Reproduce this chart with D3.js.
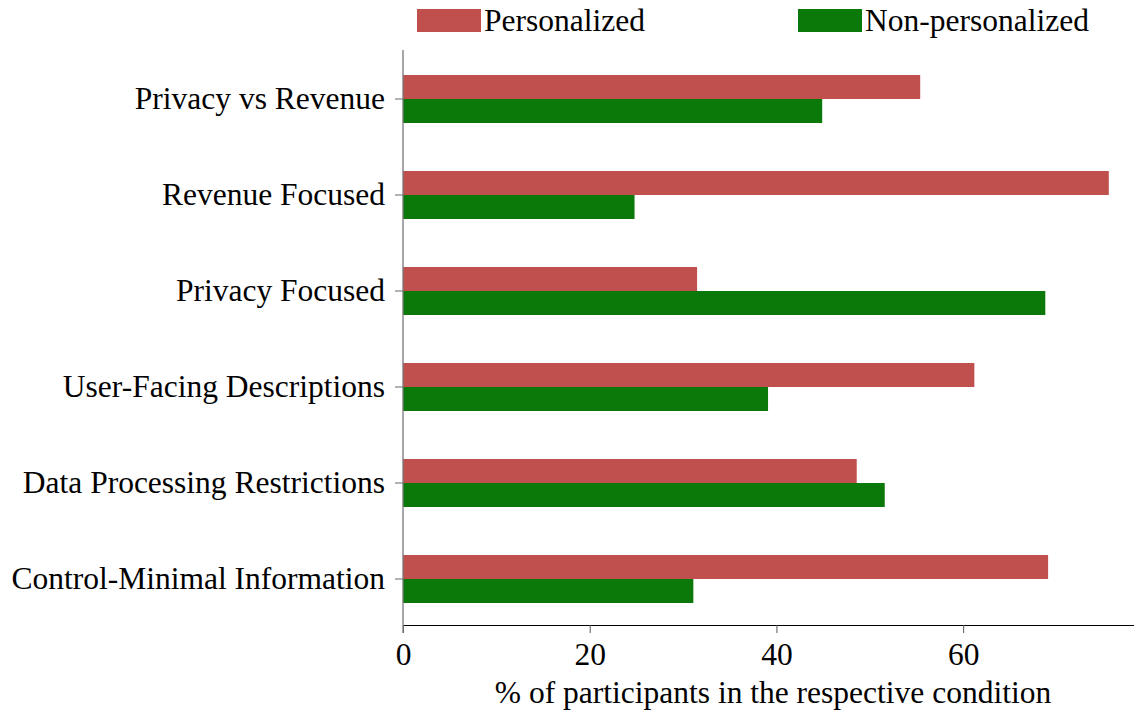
<!DOCTYPE html>
<html>
<head>
<meta charset="utf-8">
<script src="https://cdn.jsdelivr.net/npm/d3@7"></script>
<style>
  html, body { margin: 0; padding: 0; background: #fff; }
  svg { display: block; font-family: "Liberation Serif", "Times New Roman", serif; }
</style>
</head>
<body>
<svg id="chart" width="1134" height="713"></svg>
<script>
const categories = ["Privacy vs Revenue", "Revenue Focused", "Privacy Focused",
  "User-Facing Descriptions", "Data Processing Restrictions", "Control-Minimal Information"];
const seriesNames = ["Personalized", "Non-personalized"];
const personalized = [55.4, 75.6, 31.5, 61.2, 48.6, 69.1];
const nonPersonalized = [44.9, 24.8, 68.8, 39.1, 51.6, 31.1];
const xTicks = [0, 20, 40, 60];
const xLabel = "% of participants in the respective condition";

(function () {
const colors = ["#C0504D", "#0A790A"];
const fs = 31.5;
const svg = d3.select("#chart");
const mLeft = 403, mRight = 1134, mTop = 51, mBottom = 627, axisY = 625;

const x = d3.scaleLinear().domain([0, 78.3]).range([mLeft, mRight]);
const y = d3.scaleBand().domain(categories).range([mTop, mBottom]);
const barH = 24;

const series = [personalized, nonPersonalized];

// bars
series.forEach((vals, si) => {
  svg.append("g").selectAll("rect")
    .data(categories.map((c, i) => ({c, v: vals[i]})))
    .join("rect")
    .attr("x", x(0))
    .attr("y", d => y(d.c) + y.bandwidth() / 2 - barH + si * barH)
    .attr("width", d => x(d.v) - x(0))
    .attr("height", barH)
    .attr("fill", colors[si]);
});

// x axis
const xAxis = svg.append("g").attr("transform", `translate(0,${axisY})`)
  .call(d3.axisBottom(x).tickValues(xTicks).tickFormat(d3.format("d")).tickSize(8).tickSizeOuter(0));
xAxis.select(".domain").attr("stroke", "#000").attr("stroke-width", 1.2);
xAxis.selectAll(".tick line").attr("stroke", "#555");
xAxis.selectAll(".tick text").attr("font-size", fs).attr("font-family", "Liberation Serif")
  .attr("fill", "#000").attr("dy", null).attr("y", 40);

svg.append("text").attr("x", 773).attr("y", 703)
  .attr("text-anchor", "middle").attr("font-size", fs).attr("fill", "#000").text(xLabel);

// y axis
const yAxis = svg.append("g").attr("transform", `translate(${mLeft},0)`)
  .call(d3.axisLeft(y).tickSize(8).tickSizeOuter(0).tickPadding(10));
yAxis.select(".domain").remove();
yAxis.selectAll(".tick line").attr("stroke", "#666");
yAxis.selectAll(".tick text").attr("font-size", fs).attr("font-family", "Liberation Serif").attr("fill", "#000");
svg.append("line").attr("x1", mLeft).attr("x2", mLeft).attr("y1", 50).attr("y2", axisY + 8)
  .attr("stroke", "#777").attr("stroke-width", 1.3);

// legend
const legendX = [417, 798];
seriesNames.forEach((name, i) => {
  svg.append("rect").attr("x", legendX[i]).attr("y", 9).attr("width", 64).attr("height", 23).attr("fill", colors[i]);
  svg.append("text").attr("x", legendX[i] + 67).attr("y", 31).attr("font-size", fs).attr("fill", "#000").text(name);
});
})();
</script>
</body>
</html>
